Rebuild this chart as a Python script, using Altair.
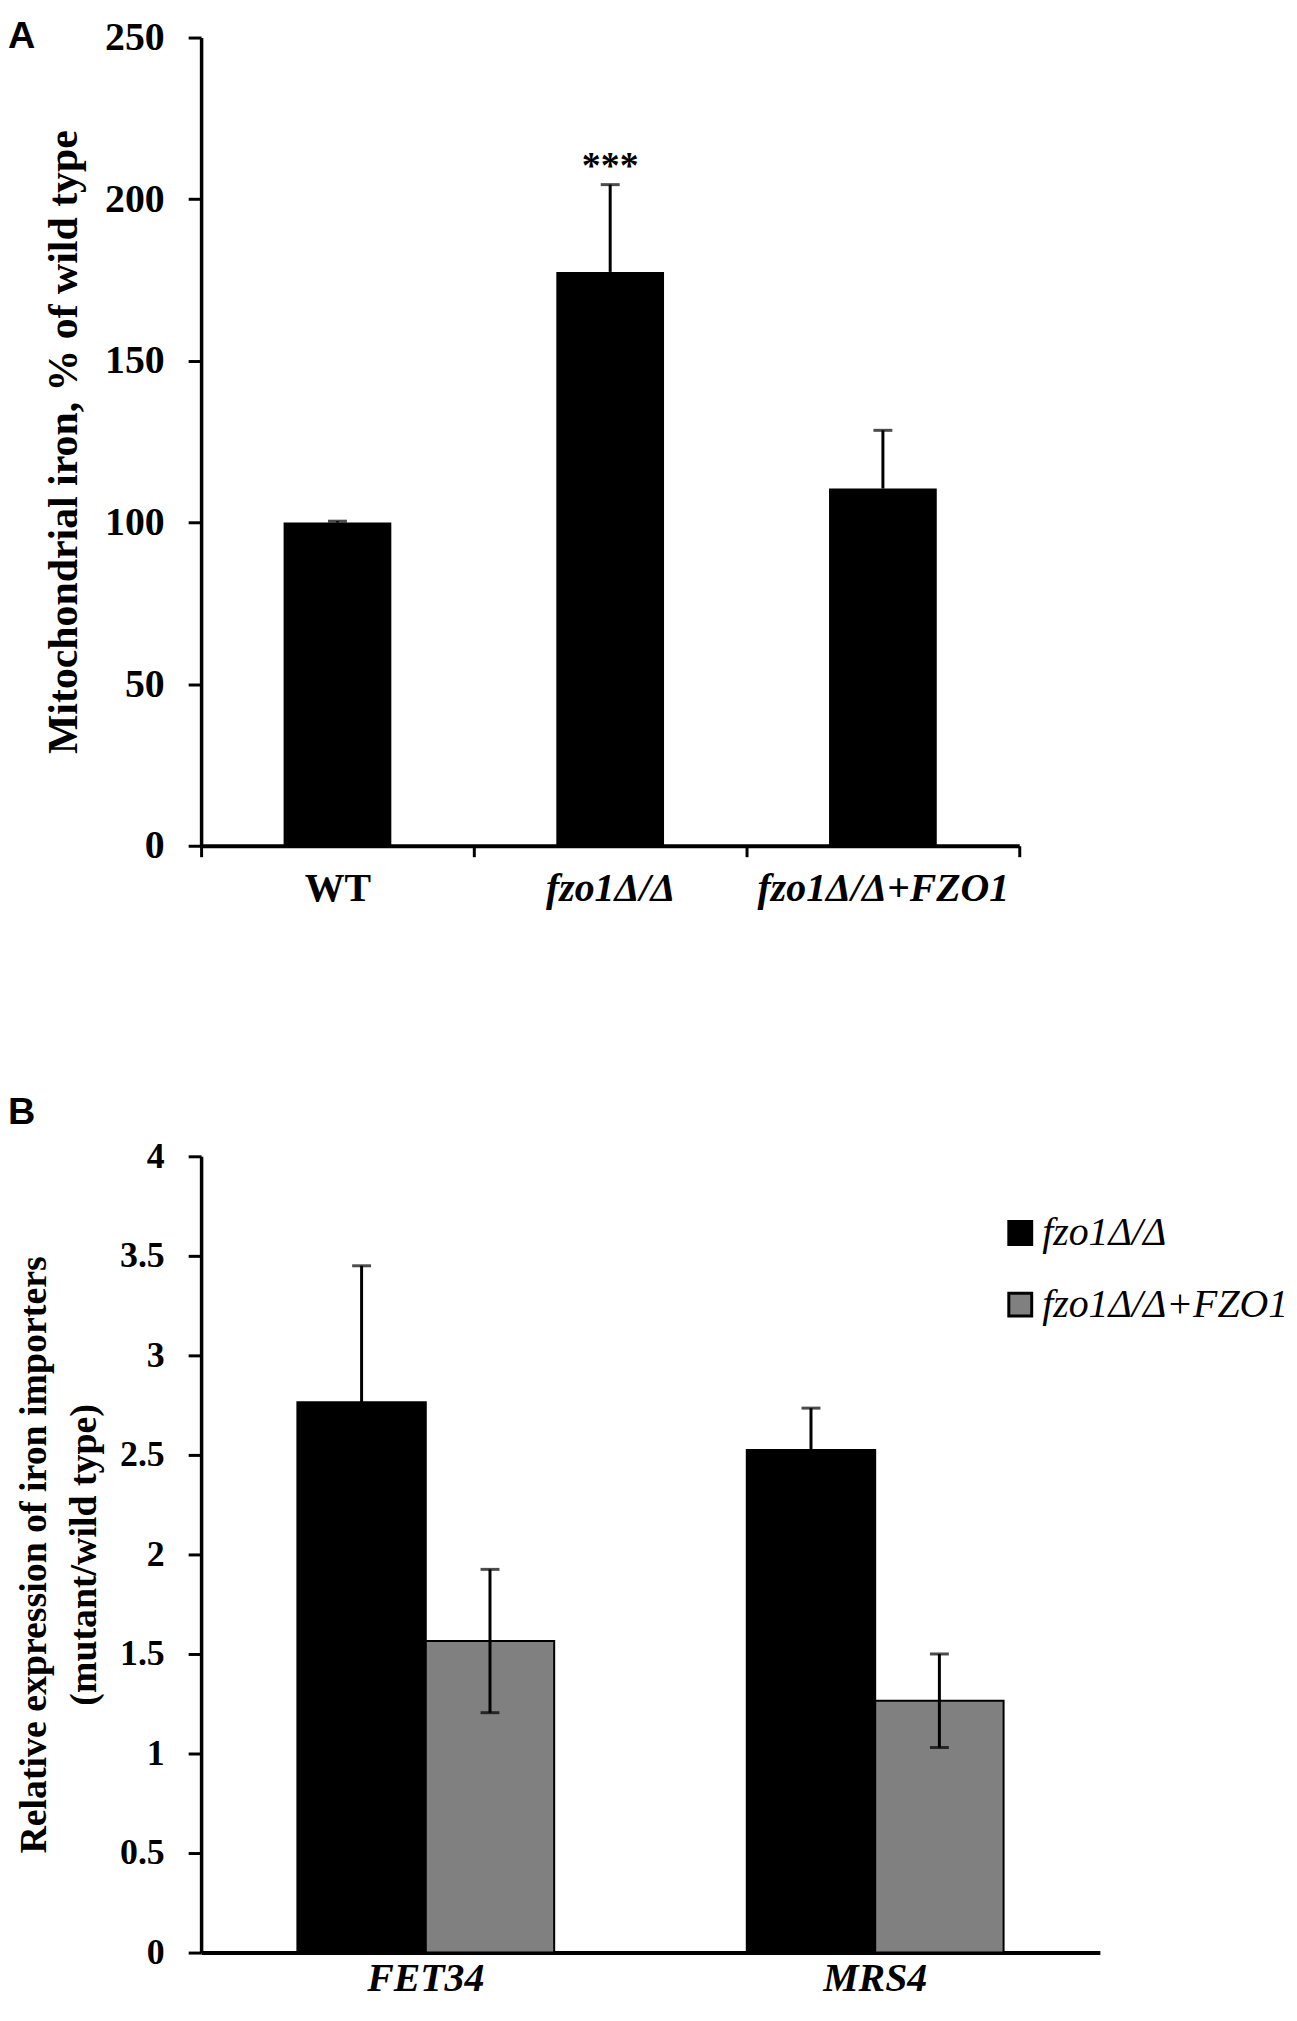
import altair as alt
import pandas as pd

# ---------------- data ----------------
groups_a = ["WT", "fzo1Δ/Δ", "fzo1Δ/Δ+FZO1"]
iron_mean = [100.0, 177.5, 110.5]
iron_err = [0.4, 27.0, 18.0]
iron_ticks = [0, 50, 100, 150, 200, 250]
star_label = ["", "***", ""]

genes = ["FET34", "MRS4"]
strains = ["fzo1Δ/Δ", "fzo1Δ/Δ+FZO1"]
expr_mean_mut = [2.765, 2.525]
expr_err_mut = [0.685, 0.21]
expr_mean_comp = [1.565, 1.265]
expr_err_comp = [0.36, 0.235]
expr_ticks = [0, 0.5, 1, 1.5, 2, 2.5, 3, 3.5, 4]
bar_colors = ["#000000", "#808080"]
panel_a = ["A"]
panel_b = ["B"]

SERIF = "Liberation Serif"
SANS = "Liberation Sans"

df_a = pd.DataFrame({"group": groups_a, "mean": iron_mean, "err": iron_err, "star": star_label})
df_a["hi"] = df_a["mean"] + df_a["err"]

rows = []
for i, g in enumerate(genes):
    rows.append({"gene": g, "strain": strains[0], "mean": expr_mean_mut[i], "err": expr_err_mut[i]})
    rows.append({"gene": g, "strain": strains[1], "mean": expr_mean_comp[i], "err": expr_err_comp[i]})
df_b = pd.DataFrame(rows)
df_b["lo"] = df_b["mean"] - df_b["err"]
df_b["hi"] = df_b["mean"] + df_b["err"]

# ---------------- chart A ----------------
xA = alt.X(
    "group:N", sort=groups_a, title=None,
    scale=alt.Scale(paddingInner=0, paddingOuter=0),
    axis=alt.Axis(
        labelFont=SERIF, labelFontSize=40, labelFontWeight="bold",
        labelFontStyle=alt.condition("datum.value == 'WT'", alt.value("normal"), alt.value("italic")),
        labelAngle=0, labelPadding=12, labelLimit=0,
        tickBand="extent", tickSize=11, tickWidth=3, domainWidth=4,
    ),
)
axisA_y = alt.Axis(
    values=iron_ticks, format="d", grid=False,
    title="Mitochondrial iron, % of wild type",
    titleFont=SERIF, titleFontSize=42, titleFontWeight="bold", titlePadding=19, titleLimit=0,
    labelFont=SERIF, labelFontSize=40, labelFontWeight="bold", labelPadding=24,
    tickSize=13, tickWidth=3, domainWidth=3.5,
)
scaleA_y = alt.Scale(domain=[0, 250], nice=False)

baseA = alt.Chart(df_a)
barsA = baseA.mark_bar(color="black", width=alt.RelativeBandSize(0.395)).encode(
    x=xA, y=alt.Y("mean:Q", scale=scaleA_y, axis=axisA_y)
)
ruleA = baseA.mark_rule(color="black", strokeWidth=3).encode(
    x=xA, y=alt.Y("mean:Q", scale=scaleA_y, axis=axisA_y), y2="hi:Q"
)
capA = baseA.mark_tick(color="black", thickness=3, size=19).encode(
    x=xA, y=alt.Y("hi:Q", scale=scaleA_y, axis=axisA_y)
)
starA = baseA.mark_text(font=SERIF, fontSize=38, fontWeight="bold", dy=-18, baseline="middle").encode(
    x=xA, y=alt.Y("hi:Q", scale=scaleA_y, axis=axisA_y), text="star:N"
)
panelA_df = pd.DataFrame({"panel": panel_a})
labelA = alt.Chart(panelA_df).mark_text(
    font=SANS, fontSize=38, fontWeight="bold", align="left", baseline="alphabetic", color="black"
).encode(text="panel:N", x=alt.value(-194), y=alt.value(11))
# invisible layout anchor (fixes the top-left corner of the drawing)
anchorA = alt.Chart(panelA_df).mark_rule(opacity=0).encode(
    x=alt.value(-230), x2=alt.value(-229), y=alt.value(-40), y2=alt.value(-39)
)

chartA = alt.layer(barsA, ruleA, capA, starA, labelA, anchorA).properties(width=822, height=812)

# ---------------- chart B ----------------
xB = alt.X(
    "gene:N", sort=genes, title=None,
    scale=alt.Scale(paddingInner=0, paddingOuter=0),
    axis=alt.Axis(
        labelFont=SERIF, labelFontSize=40, labelFontWeight="bold", labelFontStyle="italic",
        labelAngle=0, labelBaseline="alphabetic", labelPadding=38, labelLimit=0,
        ticks=False, tickSize=0, domainWidth=4,
    ),
)
xoffB = alt.XOffset("strain:N", sort=strains, scale=alt.Scale(paddingInner=0, paddingOuter=0.75))
axisB_y = alt.Axis(
    values=expr_ticks, labelExpr="'' + datum.value", grid=False,
    title=["Relative expression of iron importers", "(mutant/wild type)"],
    titleFont=SERIF, titleFontSize=38, titleFontWeight="bold", titlePadding=16, titleLimit=0,
    titleLineHeight=50,
    labelFont=SERIF, labelFontSize=36, labelFontWeight="bold", labelPadding=24,
    tickSize=13, tickWidth=3, domainWidth=3.5,
)
scaleB_y = alt.Scale(domain=[0, 4], nice=False)
colorB = alt.Color(
    "strain:N", sort=strains,
    scale=alt.Scale(domain=strains, range=bar_colors),
    legend=alt.Legend(
        title=None, orient="none", legendX=803, legendY=1181, padding=0,
        symbolType="square", symbolSize=529, symbolStrokeColor="black", symbolStrokeWidth=3,
        labelFont=SERIF, labelFontSize=40, labelFontStyle="italic", labelColor="black",
        labelOffset=2, rowPadding=32, labelLimit=0,
    ),
)

baseB = alt.Chart(df_b)
barsB = baseB.mark_bar(stroke="black", strokeWidth=2).encode(
    x=xB, xOffset=xoffB, y=alt.Y("mean:Q", scale=scaleB_y, axis=axisB_y), color=colorB
)
ruleB = baseB.mark_rule(color="black", strokeWidth=3).encode(
    x=xB, xOffset=xoffB, y=alt.Y("lo:Q", scale=scaleB_y, axis=axisB_y), y2="hi:Q"
)
capHiB = baseB.mark_tick(color="black", thickness=3, size=19).encode(
    x=xB, xOffset=xoffB, y=alt.Y("hi:Q", scale=scaleB_y, axis=axisB_y)
)
capLoB = baseB.mark_tick(color="black", thickness=3, size=19).encode(
    x=xB, xOffset=xoffB, y=alt.Y("lo:Q", scale=scaleB_y, axis=axisB_y)
)
panelB_df = pd.DataFrame({"panel": panel_b})
labelB = alt.Chart(panelB_df).mark_text(
    font=SANS, fontSize=38, fontWeight="bold", align="left", baseline="alphabetic", color="black"
).encode(text="panel:N", x=alt.value(-194), y=alt.value(-32))
# invisible layout anchor (fixes the bottom edge of the drawing)
anchorB = alt.Chart(panelB_df).mark_rule(opacity=0).encode(
    x=alt.value(0), x2=alt.value(1), y=alt.value(879), y2=alt.value(880)
)

chartB = alt.layer(barsB, ruleB, capHiB, capLoB, labelB, anchorB).properties(width=903, height=800)

chart = alt.vconcat(
    chartA, chartB, spacing=312, bounds="flush",
    padding={"left": -36, "top": -15, "right": 0, "bottom": -30},
).configure_view(
    stroke=None
).configure_axis(
    domainColor="black", tickColor="black", labelColor="black", titleColor="black", grid=False
)

chart.save("out.html", embed_options={"renderer": "svg", "actions": False})
